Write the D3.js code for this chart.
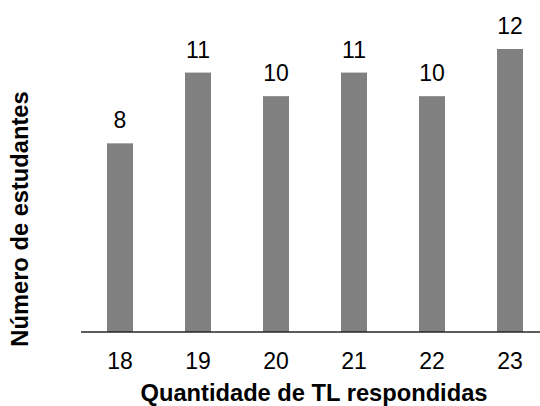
<!DOCTYPE html>
<html>
<head>
<meta charset="utf-8">
<script src="https://cdn.jsdelivr.net/npm/d3@7/dist/d3.min.js"></script>
<style>
  body { margin: 0; background: #fff; }
  svg text { font-family: Arial, "Liberation Sans", sans-serif; fill: #000; }
</style>
</head>
<body>
<div id="chart"></div>
<script>
const categories = ['18', '19', '20', '21', '22', '23'];
const values = [8, 11, 10, 11, 10, 12];
const xTitle = 'Quantidade de TL respondidas';
const yTitle = 'Número de estudantes';

const width = 540;
const height = 406;
const base = 332;

const svg = d3.select('#chart')
  .append('svg')
  .attr('width', width)
  .attr('height', height);

const x = d3.scaleBand()
  .domain(categories)
  .range([81, 549])
  .paddingInner(2 / 3)
  .paddingOuter(1 / 3);

const y = d3.scaleLinear()
  .domain([0, 12])
  .range([base, 49]);

// bars
svg.selectAll('rect.bar')
  .data(values)
  .join('rect')
  .attr('class', 'bar')
  .attr('x', (d, i) => x(categories[i]))
  .attr('y', d => y(d))
  .attr('width', x.bandwidth())
  .attr('height', d => base - y(d))
  .attr('fill', '#808080');

// value labels
svg.selectAll('text.val')
  .data(values)
  .join('text')
  .attr('class', 'val')
  .attr('x', (d, i) => x(categories[i]) + x.bandwidth() / 2)
  .attr('y', d => y(d) - 15)
  .attr('text-anchor', 'middle')
  .style('font-size', '23px')
  .text(d => d);

// x axis
const xAxis = d3.axisBottom(x).tickSize(0).tickPadding(21);
const gx = svg.append('g')
  .attr('transform', 'translate(0,' + base + ')')
  .call(xAxis);
gx.select('.domain').remove();
gx.selectAll('text').style('font-size', '23px').attr('dy', '0.71em');

svg.append('line')
  .attr('x1', 81).attr('x2', width)
  .attr('y1', base).attr('y2', base)
  .attr('stroke', '#262626')
  .attr('stroke-width', 1.5);

// titles
svg.append('text')
  .attr('x', 314)
  .attr('y', 401)
  .attr('text-anchor', 'middle')
  .style('font-size', '23.7px')
  .style('font-weight', 'bold')
  .text(xTitle);

svg.append('text')
  .attr('transform', 'translate(28,219) rotate(-90)')
  .attr('text-anchor', 'middle')
  .style('font-size', '23.7px')
  .style('font-weight', 'bold')
  .text(yTitle);
</script>
</body>
</html>
